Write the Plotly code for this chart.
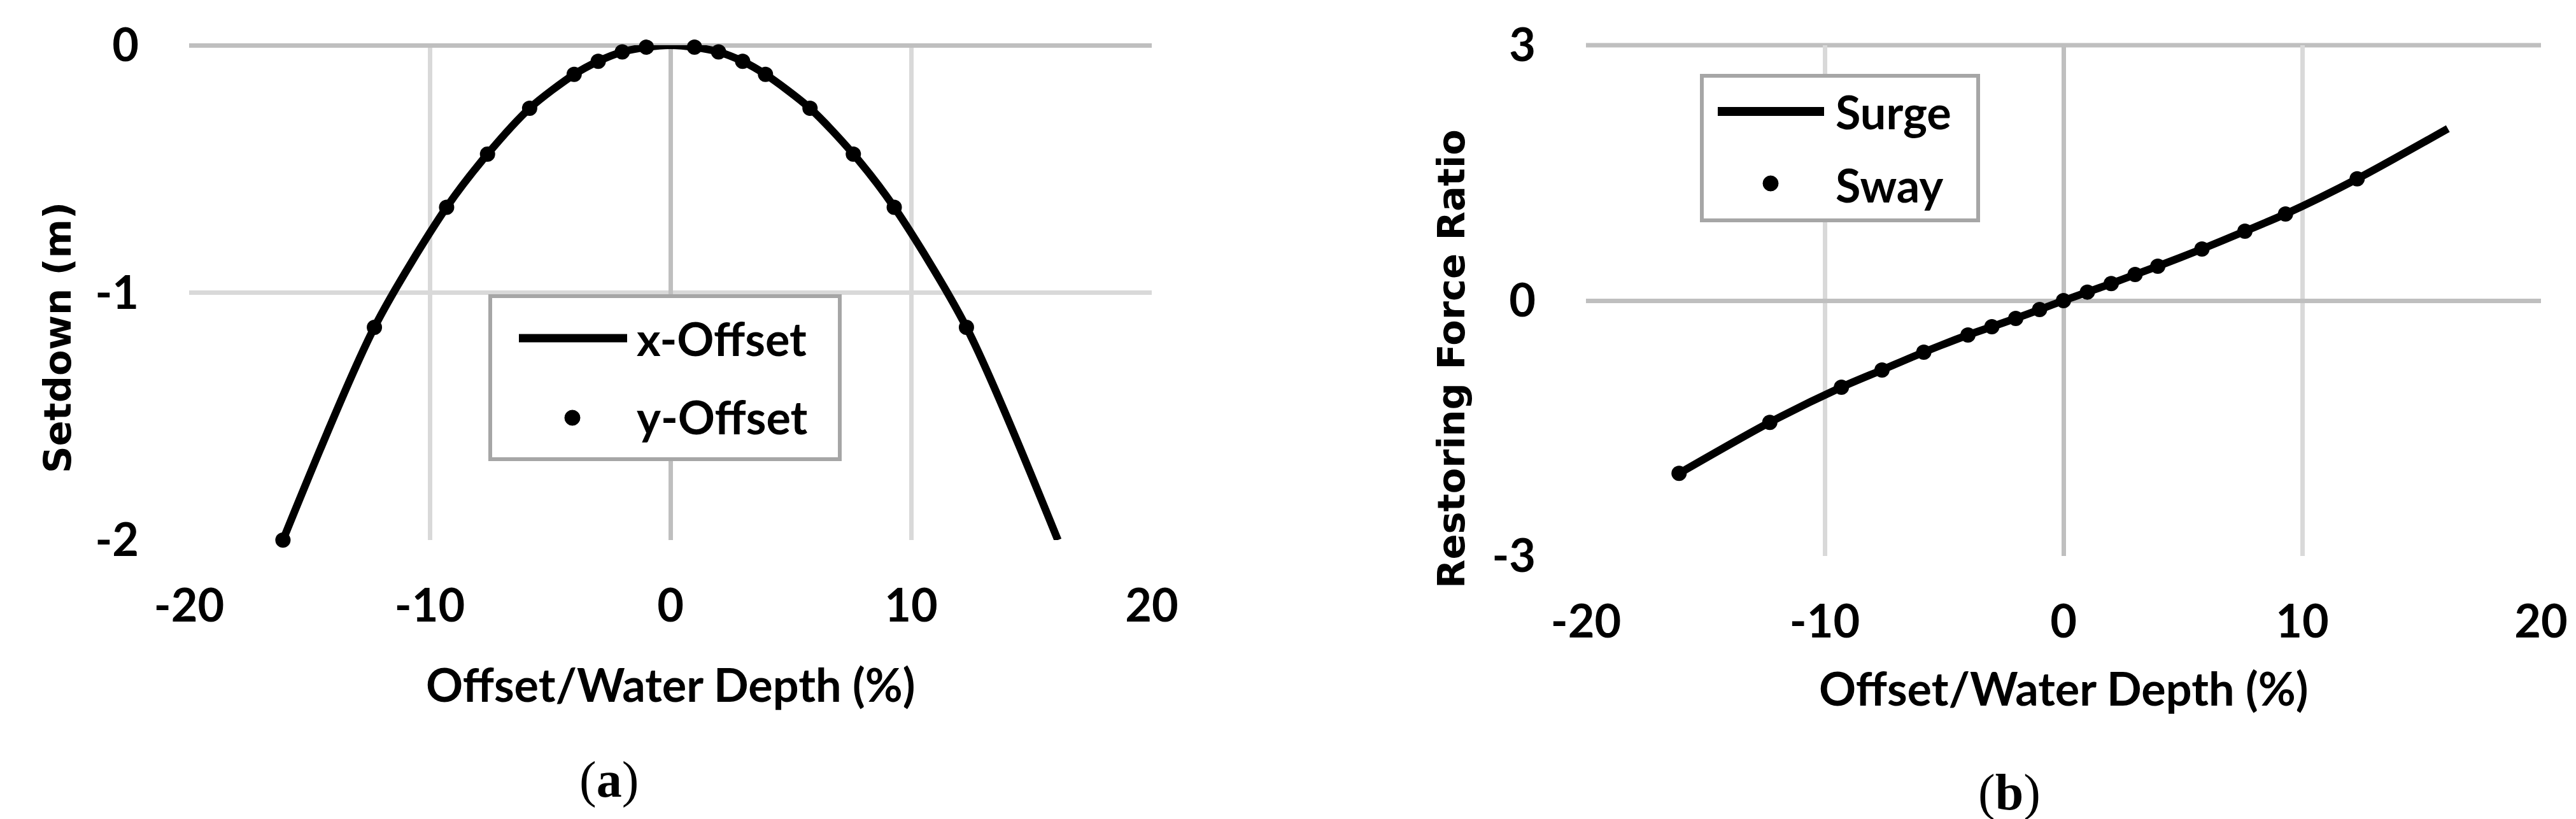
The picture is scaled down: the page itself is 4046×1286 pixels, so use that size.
import plotly.graph_objects as go

W, H = 4046, 1286

# ---------------- data ----------------
offset_line = [-16.1, -12.3, -9.3, -7.6, -5.85, -4.0, -3.0, -2.0, -1.0, 0.0,
               1.0, 2.0, 3.0, 3.95, 5.8, 7.6, 9.3, 12.3, 16.1]
setdown_x_offset = [-2.0, -1.14, -0.655, -0.44, -0.255, -0.118, -0.065, -0.027, -0.008, 0.0,
                    -0.008, -0.027, -0.065, -0.118, -0.255, -0.44, -0.655, -1.14, -2.0]

offset_pts = [-16.1, -12.3, -9.3, -7.6, -5.85, -4.0, -3.0, -2.0, -1.0,
              1.0, 2.0, 3.0, 3.95, 5.8, 7.6, 9.3, 12.3]
setdown_y_offset = [-2.0, -1.14, -0.655, -0.44, -0.255, -0.118, -0.065, -0.027, -0.008,
                    -0.008, -0.027, -0.065, -0.118, -0.255, -0.44, -0.655, -1.14]

surge_x = [-16.1, -12.3, -9.3, -7.6, -5.85, -4.0, -3.0, -2.0, -1.0, 0.0,
           1.0, 2.0, 3.0, 3.95, 5.8, 7.6, 9.3, 12.3, 16.1]
surge_ratio = [-2.03, -1.43, -1.017, -0.815, -0.606, -0.404, -0.307, -0.209, -0.105, 0.0,
               0.1, 0.2, 0.306, 0.404, 0.606, 0.815, 1.017, 1.43, 2.02]

sway_x = [-16.1, -12.3, -9.3, -7.6, -5.85, -4.0, -3.0, -2.0, -1.0, 0.0,
          1.0, 2.0, 3.0, 3.95, 5.8, 7.6, 9.3, 12.3]
sway_ratio = [-2.03, -1.43, -1.017, -0.815, -0.606, -0.404, -0.307, -0.209, -0.105, 0.0,
              0.1, 0.2, 0.306, 0.404, 0.606, 0.815, 1.017, 1.43]

x_ticks = [-20, -10, 0, 10, 20]
y1_ticks = [-2, -1, 0]
y2_ticks = [-3, 0, 3]

# ---------------- helpers ----------------
def px(x):
    return x / W

def py(y):
    return 1 - y / H

TICK_FONT = dict(family="Lato", size=72, color="black", weight="bold")
YTITLE_FONT = dict(family="DejaVu Sans", size=59, color="black", weight="bold")
GRID = "#D9D9D9"
AXIS = "#BFBFBF"
LINE_W = 12
MARK = 24

fig = go.Figure()

fig.add_trace(go.Scatter(x=offset_line, y=setdown_x_offset, mode="lines", name="x-Offset",
                         line=dict(color="black", width=LINE_W, shape="spline", smoothing=0.8),
                         cliponaxis=False, showlegend=False, xaxis="x", yaxis="y"))
fig.add_trace(go.Scatter(x=offset_pts, y=setdown_y_offset, mode="markers", name="y-Offset",
                         marker=dict(color="black", size=MARK),
                         cliponaxis=False, showlegend=False, xaxis="x", yaxis="y"))
fig.add_trace(go.Scatter(x=surge_x, y=surge_ratio, mode="lines", name="Surge",
                         line=dict(color="black", width=LINE_W, shape="spline", smoothing=0.8),
                         cliponaxis=False, showlegend=False, xaxis="x2", yaxis="y2"))
fig.add_trace(go.Scatter(x=sway_x, y=sway_ratio, mode="markers", name="Sway",
                         marker=dict(color="black", size=MARK),
                         cliponaxis=False, showlegend=False, xaxis="x2", yaxis="y2"))

def xax(domain, anchor):
    return dict(domain=domain, anchor=anchor, range=[-20, 20], tickmode="array",
                tickvals=x_ticks, ticktext=[str(v) for v in x_ticks],
                showgrid=True, gridcolor=GRID, gridwidth=7,
                zeroline=True, zerolinecolor=AXIS, zerolinewidth=7, automargin=False,
                showline=False, ticks="", tickfont=TICK_FONT, ticklabelstandoff=55)

def yax(domain, anchor, rng, ticks):
    return dict(domain=domain, anchor=anchor, range=rng, tickmode="array",
                tickvals=ticks, ticktext=[str(v) for v in ticks],
                showgrid=True, gridcolor=GRID, gridwidth=7,
                zeroline=True, zerolinecolor=AXIS, zerolinewidth=7, automargin=False,
                showline=False, ticks="", tickfont=TICK_FONT, ticklabelstandoff=78)

fig.update_layout(
    template="none",
    width=W, height=H, margin=dict(l=0, r=0, t=0, b=0, pad=0),
    paper_bgcolor="white", plot_bgcolor="white", showlegend=False,
    xaxis=xax([px(289), px(1801)], "y"),
    yaxis=yax([py(840), py(63)], "x", [-2, 0], y1_ticks),
    xaxis2=xax([px(2483), px(3983)], "y2"),
    yaxis2=yax([py(865), py(63)], "x2", [-3, 3], y2_ticks),
)

annotations = [
    # axis titles
    dict(text="Offset/Water Depth (%)", x=px(1045), y=py(1066), font=TICK_FONT),
    dict(text="Offset/Water Depth (%)", x=px(3233), y=py(1072), font=TICK_FONT),
    dict(text="Setdown (m)", x=px(82), y=py(522), textangle=-90, font=YTITLE_FONT),
    dict(text="Restoring Force Ratio", x=px(2272), y=py(556), textangle=-90, font=YTITLE_FONT),
    # captions
    dict(text="(<b>a</b>)", x=px(948), y=py(1216),
         font=dict(family="Liberation Serif", size=80, color="black")),
    dict(text="(<b>b</b>)", x=px(3148), y=py(1236),
         font=dict(family="Liberation Serif", size=80, color="black")),
    # legend texts
    dict(text="x-Offset", x=px(990), y=py(523), xanchor="left", font=TICK_FONT),
    dict(text="y-Offset", x=px(990), y=py(646), xanchor="left", font=TICK_FONT),
    dict(text="Surge", x=px(2873), y=py(167), xanchor="left", font=TICK_FONT),
    dict(text="Sway", x=px(2873), y=py(282), xanchor="left", font=TICK_FONT),
]
for a in annotations:
    a.setdefault("xanchor", "center")
    a.update(xref="paper", yref="paper", yanchor="middle", showarrow=False)
fig.update_layout(annotations=annotations)

LEG_BORDER = "#A6A6A6"
shapes = [
    # darker top border of right plot
    dict(type="line", xref="x2 domain", yref="y2 domain", x0=0, x1=1, y0=1, y1=1,
         line=dict(color=AXIS, width=7), layer="below"),
    # left legend
    dict(type="rect", xref="paper", yref="paper", x0=px(762), x1=px(1311), y0=py(713), y1=py(457),
         line=dict(color=LEG_BORDER, width=6), fillcolor="white", layer="above"),
    dict(type="line", xref="paper", yref="paper", x0=px(807), x1=px(977), y0=py(523), y1=py(523),
         line=dict(color="black", width=13), layer="above"),
    dict(type="circle", xref="paper", yref="paper", x0=px(879), x1=px(903), y0=py(660), y1=py(636),
         line=dict(color="black", width=1), fillcolor="black", layer="above"),
    # right legend
    dict(type="rect", xref="paper", yref="paper", x0=px(2665), x1=px(3099), y0=py(338), y1=py(111),
         line=dict(color=LEG_BORDER, width=6), fillcolor="white", layer="above"),
    dict(type="line", xref="paper", yref="paper", x0=px(2690), x1=px(2857), y0=py(167), y1=py(167),
         line=dict(color="black", width=14), layer="above"),
    dict(type="circle", xref="paper", yref="paper", x0=px(2761), x1=px(2785), y0=py(292), y1=py(268),
         line=dict(color="black", width=1), fillcolor="black", layer="above"),
]
fig.update_layout(shapes=shapes)

fig.write_html("out.html")
